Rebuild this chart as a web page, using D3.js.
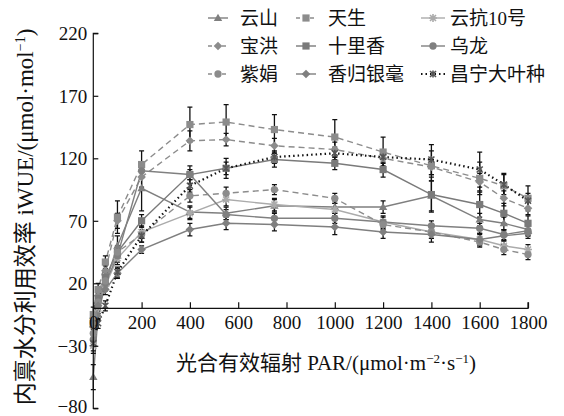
<!DOCTYPE html>
<html>
<head>
<meta charset="utf-8">
<script src="https://cdn.jsdelivr.net/npm/d3@7"></script>
<style>
  body { margin: 0; background: #fff; }
  text { font-family: "Liberation Serif", "Noto Sans CJK SC", serif; fill: #111; }
</style>
</head>
<body>
<div id="graphic"></div>
<script>
// light response of iWUE, 9 tea varieties

var par = [0, 20, 50, 100, 200, 400, 550, 750, 1000, 1200, 1400, 1600, 1700, 1800];

var names = ["云山", "天生", "云抗10号", "宝洪", "十里香", "乌龙", "紫娟", "香归银毫", "昌宁大叶种"];

var yunshan   = [-55, -5, 20, 50, 96, 77, 76, 82, 81, 81, 90, 71, 68, 63];
var tiansheng = [-5, 15, 37, 73, 115, 147, 149, 143, 137, 125, 114, 104, 98, 88];
var yunkang   = [-30, 0, 18, 40, 61, 76, 87, 83, 79, 69, 61, 55, 50, 47];
var baohong   = [-8, 10, 30, 70, 105, 134, 135, 130, 127, 120, 113, 101, 88, 80];
var shilixiang = [-12, 8, 25, 45, 70, 107, 112, 119, 116, 111, 91, 83, 76, 68];
var wulong    = [-25, 5, 20, 42, 110, 107, 75, 72, 72, 69, 66, 64, 59, 62];
var zijuan    = [-20, 5, 22, 45, 59, 90, 92, 95, 88, 67, 61, 53, 47, 43];
var xianggui  = [-15, 2, 15, 28, 47, 63, 68, 67, 65, 61, 59, 55, 58, 60];
var changning = [-28, -12, 2, 29, 58, 98, 112, 121, 124, 121, 119, 111, 99, 86];

var errYunshan   = [10, 4, 4, 8, 18, 5, 5, 5, 5, 5, 12, 5, 5, 5];
var errTiansheng = [6, 5, 5, 13, 11, 14, 14, 12, 14, 12, 12, 13, 10, 10];
var errYunkang   = [6, 4, 4, 5, 5, 5, 5, 5, 5, 5, 5, 4, 4, 4];
var errBaohong   = [5, 5, 4, 6, 8, 8, 5, 6, 6, 6, 6, 7, 6, 5];
var errShili     = [5, 4, 4, 5, 5, 7, 8, 6, 5, 6, 14, 10, 8, 6];
var errWulong    = [6, 4, 4, 5, 5, 4, 4, 4, 4, 4, 4, 4, 4, 4];
var errZijuan    = [5, 4, 4, 5, 6, 5, 5, 4, 4, 4, 5, 4, 4, 4];
var errXianggui  = [5, 4, 4, 4, 3, 5, 5, 5, 6, 5, 6, 5, 4, 4];
var errChangning = [6, 4, 4, 4, 5, 5, 5, 5, 5, 5, 12, 14, 8, 6];

var yTicks = [220, 170, 120, 70, 20, -30, -80];
var xTicks = [0, 200, 400, 600, 800, 1000, 1200, 1400, 1600, 1800];

var series = [
    { name: names[0], values: yunshan,    err: errYunshan,   color: "#7f7f7f", dash: null,  marker: "triangle" },
    { name: names[1], values: tiansheng,  err: errTiansheng, color: "#8c8c8c", dash: "6,4", marker: "square" },
    { name: names[2], values: yunkang,    err: errYunkang,   color: "#ababab", dash: null,  marker: "star" },
    { name: names[3], values: baohong,    err: errBaohong,   color: "#8c8c8c", dash: "6,4", marker: "diamond" },
    { name: names[4], values: shilixiang, err: errShili,     color: "#7a7a7a", dash: null,  marker: "square" },
    { name: names[5], values: wulong,     err: errWulong,    color: "#808080", dash: null,  marker: "circle" },
    { name: names[6], values: zijuan,     err: errZijuan,    color: "#8c8c8c", dash: "6,4", marker: "circle" },
    { name: names[7], values: xianggui,   err: errXianggui,  color: "#7f7f7f", dash: null,  marker: "diamond" },
    { name: names[8], values: changning,  err: errChangning, color: "#111111", dash: "1.5,3", marker: "times" }
];

var width = 564, height = 416;

var svg = d3.select("#graphic").append("svg")
    .attr("width", width)
    .attr("height", height);

var x = d3.scaleLinear().domain([0, 1800]).range([93.3, 528]);
var y = d3.scaleLinear().domain([-80, 220]).range([408.3, 33.3]);

function markerPath(type) {
    if (type == "square") return "M-3.6,-3.6H3.6V3.6H-3.6Z";
    if (type == "diamond") return "M0,-4.3L4.3,0L0,4.3L-4.3,0Z";
    if (type == "triangle") return "M0,-4.2L4.2,3L-4.2,3Z";
    if (type == "circle") return d3.symbol().type(d3.symbolCircle).size(42)();
    if (type == "star") return "M-4,0H4M0,-4V4M-3,-3L3,3M-3,3L3,-3";
    if (type == "times") return "M-3,-3L3,3M-3,3L3,-3M0,-3.5V3.5";
    return "";
}

function drawMarker(g, type, color) {
    var stroked = (type == "star" || type == "times");
    g.append("path")
        .attr("d", markerPath(type))
        .attr("fill", stroked ? "none" : color)
        .attr("stroke", stroked ? (type == "times" ? "#555" : color) : "none")
        .attr("stroke-width", stroked ? 1.6 : 0);
}

// lines
var line = d3.line()
    .x(function (d, i) { return x(par[i]); })
    .y(function (d) { return y(d); });

series.forEach(function (s) {
    svg.append("path")
        .datum(s.values)
        .attr("fill", "none")
        .attr("stroke", s.color)
        .attr("stroke-width", s.dash == "1.5,3" ? 2.2 : 1.4)
        .attr("stroke-dasharray", s.dash)
        .attr("d", line);
});

// error bars
series.forEach(function (s) {
    var eb = svg.append("g");
    s.values.forEach(function (v, i) {
        var cx = x(par[i]), y1 = y(v + s.err[i]), y2 = y(v - s.err[i]);
        eb.append("path")
            .attr("d", "M" + cx + "," + y1 + "V" + y2 + "M" + (cx - 2.5) + "," + y1 + "H" + (cx + 2.5) + "M" + (cx - 2.5) + "," + y2 + "H" + (cx + 2.5))
            .attr("stroke", "#111")
            .attr("stroke-width", 1.3)
            .attr("fill", "none");
    });
});

// markers
series.forEach(function (s) {
    s.values.forEach(function (v, i) {
        var g = svg.append("g").attr("transform", "translate(" + x(par[i]) + "," + y(v) + ")");
        drawMarker(g, s.marker, s.color);
    });
});

// axes (drawn over the data, like the original)
var yAxis = d3.axisRight(y).tickValues(yTicks).tickSize(5).tickFormat(d3.format("d"));
var gy = svg.append("g").attr("transform", "translate(" + x(0) + ",0)").call(yAxis);
gy.select(".domain").attr("d", "M5," + y(220) + "H0V" + y(-80) + "H5").attr("stroke", "#111").attr("stroke-width", 1.2);
gy.selectAll(".tick line").attr("stroke", "#111").attr("stroke-width", 1.2);
gy.selectAll(".tick text")
    .attr("x", -6)
    .attr("dy", function (d) { return d == -80 ? "0.2em" : "0.35em"; })
    .attr("text-anchor", "end")
    .attr("font-size", 19)
    .attr("fill", "#111")
    .text(function (d) { return d < 0 ? "\u2212" + Math.abs(d) : d; });

var xAxis = d3.axisTop(x).tickValues(xTicks).tickSize(6).tickFormat(d3.format("d"));
var gx = svg.append("g").attr("transform", "translate(0," + y(0) + ")").call(xAxis);
gx.select(".domain").attr("d", "M" + x(0) + ",0H" + x(1800) + "V-6").attr("stroke", "#111").attr("stroke-width", 1.2);
gx.selectAll(".tick line").attr("stroke", "#111").attr("stroke-width", 1.2);
gx.selectAll(".tick text")
    .attr("y", 14)
    .attr("dy", "0.35em")
    .attr("font-size", 19)
    .attr("fill", "#111");

// legend
var legCols = [208, 296, 421];
var legRows = [18, 46, 74];
series.forEach(function (s, i) {
    var cx = legCols[i % 3], cy = legRows[Math.floor(i / 3)];
    var lw = i % 3 == 2 ? 24 : 20;
    var lg = svg.append("g").attr("transform", "translate(" + cx + "," + cy + ")");
    lg.append("line")
        .attr("x1", 0).attr("x2", lw)
        .attr("stroke", s.color)
        .attr("stroke-width", s.dash == "1.5,3" ? 2 : 1.4)
        .attr("stroke-dasharray", s.dash == "6,4" ? "4,3" : s.dash);
    drawMarker(lg.append("g").attr("transform", "translate(" + lw / 2 + ",0)"), s.marker, s.color);
    lg.append("text")
        .attr("x", i % 3 == 2 ? 29 : 32)
        .attr("dy", "0.35em")
        .attr("font-size", 19)
        .text(s.name);
});

// axis titles
svg.append("text")
    .attr("x", 326)
    .attr("y", 363)
    .attr("dy", "0.35em")
    .attr("text-anchor", "middle")
    .attr("font-size", 21)
    .html("光合有效辐射 PAR/(μmol·m<tspan dy='-7' font-size='13'>−2</tspan><tspan dy='7'>·s</tspan><tspan dy='-7' font-size='13'>−1</tspan><tspan dy='7'>)</tspan>");

svg.append("text")
    .attr("transform", "translate(25,217) rotate(-90)")
    .attr("dy", "0.35em")
    .attr("text-anchor", "middle")
    .attr("font-size", 23)
    .html("内禀水分利用效率 iWUE/(μmol·mol<tspan dy='-8' font-size='14'>−1</tspan><tspan dy='8'>)</tspan>");
</script>
</body>
</html>
